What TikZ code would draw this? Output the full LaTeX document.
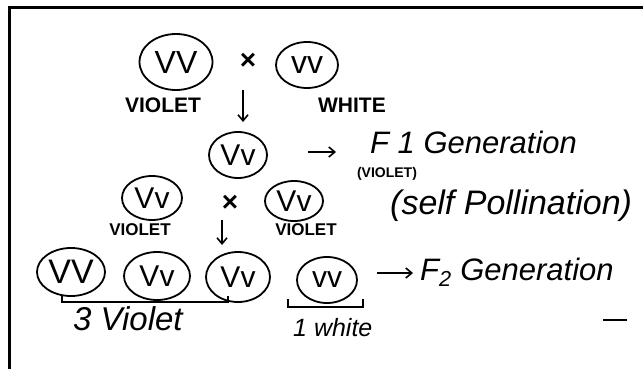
\documentclass[tikz,border=0pt]{standalone}
\usepackage{fontspec}
\setmainfont{Liberation Sans}
\usetikzlibrary{shapes.geometric,arrows.meta,calc}
\begin{document}
\begin{tikzpicture}[x=1pt,y=-1pt,
  geno/.style={ellipse, draw, line width=1.8pt, inner sep=0pt,
    label={[font=\fontsize{#1}{#1}\selectfont, inner sep=0pt]center:\genotext}},
  capslbl/.style={font=\bfseries\fontsize{21}{21}\selectfont},
  capsmall/.style={font=\bfseries\fontsize{17}{17}\selectfont},
  capstiny/.style={font=\bfseries\fontsize{14}{14}\selectfont},
  handtxt/.style={font=\itshape\fontsize{31}{31}\selectfont},
  crosssym/.style={font=\bfseries\fontsize{28}{28}\selectfont},
  conn/.style={line width=1.6pt, -{Straight Barb[length=6pt,width=10pt]}},
  penline/.style={line width=1.6pt}]
\useasboundingbox (0,0) rectangle (643,369);
% frame
\draw[line width=3pt] (9,369) -- (9,8) -- (643,8);
% parents
\def\genotext{VV}
\node[geno=32, minimum width=73pt, minimum height=56pt] (P1) at (176,62) {};
\node[crosssym] (X1) at (248,61) {×};
\def\genotext{vv}
\node[geno=32, minimum width=62pt, minimum height=46pt] (P2) at (307,65) {};
\node[capslbl] (L1) at (163,105) {VIOLET};
\node[capslbl] (L2) at (352,105) {WHITE};
\coordinate (A1s) at (243,90);
\coordinate (A1e) at (243,122);
\draw[conn] (A1s) -- (A1e);
% F1
\def\genotext{Vv}
\node[geno=30, minimum width=58pt, minimum height=46pt] (F1) at (238,155) {};
\coordinate (A2s) at (308,152);
\coordinate (A2e) at (336,152);
\draw[conn] (A2s) -- (A2e);
\node[handtxt, anchor=base west, inner sep=0pt] (F1T) at (370,153) {F 1 Generation};
\node[capstiny] (F1V) at (387,174) {(VIOLET)};
% selfing
\node[geno=30, minimum width=60pt, minimum height=44pt] (S1) at (152,198) {};
\node[crosssym] (X2) at (230,203) {×};
\node[geno=30, minimum width=58pt, minimum height=40pt] (S2) at (294,201) {};
\node[handtxt, anchor=base west, inner sep=0pt, font=\itshape\fontsize{34}{34}\selectfont] (SP) at (390,214) {(self Pollination)};
\node[capsmall] (L3) at (140,230) {VIOLET};
\node[capsmall] (L4) at (306,230) {VIOLET};
\coordinate (A3s) at (222,220);
\coordinate (A3e) at (222,245);
\draw[conn] (A3s) -- (A3e);
% F2
\def\genotext{VV}
\node[geno=34, minimum width=68pt, minimum height=48pt] (G1) at (71,272) {};
\def\genotext{Vv}
\node[geno=30, minimum width=66pt, minimum height=48pt] (G2) at (157,276) {};
\node[geno=30, minimum width=64pt, minimum height=50pt] (G3) at (238,277) {};
\def\genotext{vv}
\node[geno=30, minimum width=60pt, minimum height=46pt] (G4) at (327,280) {};
\coordinate (A4s) at (377,273);
\coordinate (A4e) at (413,273);
\draw[conn] (A4s) -- (A4e);
\node[handtxt, anchor=base west, inner sep=0pt] (F2T) at (420,280) {F\textsubscript{2} Generation};
% brackets
\coordinate (B1a) at (62,296);
\coordinate (B1b) at (228,296);
\draw[penline] (B1a) -- ++(0,6) -- ($(B1b)+(0,6)$) -- (B1b);
\node[handtxt, anchor=base west, inner sep=0pt, font=\itshape\fontsize{33}{33}\selectfont] (T3) at (73,330) {3 Violet};
\coordinate (B2a) at (288,299);
\coordinate (B2b) at (363,299);
\draw[penline] (B2a) -- ++(0,8) -- ($(B2b)+(0,8)$) -- (B2b);
\node[anchor=base west, inner sep=0pt, font=\itshape\fontsize{25}{25}\selectfont] (T1) at (293,336) {1 white};
\coordinate (D1) at (603,320);
\coordinate (D2) at (627,320);
\draw[penline] (D1) -- (D2);
\end{tikzpicture}
\end{document}
